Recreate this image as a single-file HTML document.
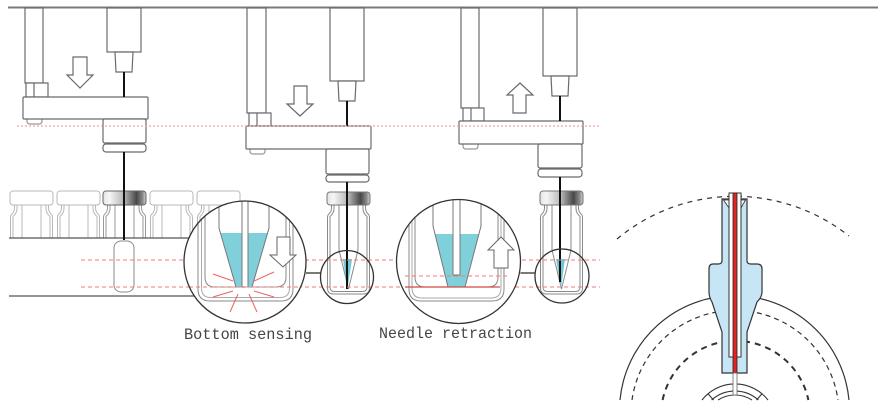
<!DOCTYPE html>
<html><head><meta charset="utf-8"><style>
html,body{margin:0;padding:0;background:#fff;width:888px;height:417px;overflow:hidden;}
svg{display:block;}
</style></head><body>
<svg width="888" height="417" viewBox="0 0 888 417" xmlns="http://www.w3.org/2000/svg">
<defs>
<linearGradient id="capg" x1="0" x2="1" y1="0" y2="0">
 <stop offset="0" stop-color="#e4e4e4"/>
 <stop offset="0.15" stop-color="#f6f6f6"/>
 <stop offset="0.5" stop-color="#b4b4b4"/>
 <stop offset="0.78" stop-color="#484848"/>
 <stop offset="0.92" stop-color="#8a8a8a"/>
 <stop offset="1" stop-color="#d4d4d4"/>
</linearGradient>
<g id="vb" fill="none">
 <path d="M4.5,205 V208 Q4.5,212 1,215 Q0.5,216 0.5,218 V288 Q0.5,294 6.5,294 H36.5 Q42.5,294 42.5,288 V218 Q42.5,216 42,215 Q38.5,212 38.5,208 V205"/>
 <path d="M7,205 V208.5 Q7,213 3,216.5 V287 Q3,291.5 7.5,291.5 H35.5 Q40,291.5 40,287 V216.5 Q36,213 36,208.5 V205"/>
 <path d="M12,205 V250 L21.5,289 L31,250 V205"/>
</g>
<clipPath id="c1"><circle cx="245" cy="262" r="60.5"/></clipPath>
<clipPath id="c3"><circle cx="458.5" cy="261.5" r="61.5"/></clipPath>
</defs>

<!-- top rail -->
<line x1="8" y1="7.5" x2="878" y2="7.5" stroke="#7a7a7a" stroke-width="2"/>

<!-- mechanical parts -->
<g fill="#fff" stroke="#6a6a6a" stroke-width="1.2">
 <!-- section 1 -->
 <rect x="25" y="8" width="18" height="75"/>
 <rect x="26" y="83" width="22" height="14"/><line x1="34" y1="83" x2="34" y2="97"/>
 <path d="M27,119 v2 q0,3 3,3 h9 q3,0 3,-3 v-2" stroke="#999"/>
 <rect x="23" y="97" width="125" height="22" rx="1"/>
 <rect x="107" y="8" width="34" height="44"/>
 <path d="M115,52 L133,52 L132,72 L116,72 Z"/>
 <path d="M73,57 H87 V75 H93 L80,88 L67,75 H73 Z"/>
 <rect x="103" y="119" width="43" height="24" rx="2"/>
 <rect x="103" y="144" width="43" height="8" rx="3"/>
 <!-- section 2 -->
 <rect x="247" y="8" width="19" height="105"/>
 <rect x="249" y="113" width="22" height="13"/><line x1="257" y1="113" x2="257" y2="126"/>
 <path d="M250,149 v2 q0,3 3,3 h9 q3,0 3,-3 v-2" stroke="#999"/>
 <rect x="246" y="126" width="125" height="23" rx="1"/>
 <rect x="330" y="8" width="34" height="73"/>
 <path d="M338,81 L356,81 L355,101 L339,101 Z"/>
 <path d="M294,86 H307 V104 H313 L300,116 L287,104 H294 Z"/>
 <rect x="326" y="149" width="43" height="25" rx="2"/>
 <rect x="326" y="175" width="43" height="7" rx="3"/>
 <!-- section 3 -->
 <rect x="461" y="8" width="18" height="100"/>
 <rect x="463" y="108" width="21" height="13"/><line x1="471" y1="108" x2="471" y2="121"/>
 <path d="M463,144 v2 q0,3 3,3 h9 q3,0 3,-3 v-2" stroke="#999"/>
 <rect x="459" y="121" width="124" height="23" rx="1"/>
 <rect x="543" y="8" width="34" height="68"/>
 <path d="M551,76 L569,76 L568,96 L552,96 Z"/>
 <path d="M513,113 V95 H507 L520,83 L533,95 H526 V113 Z"/>
 <rect x="538" y="144" width="44" height="24" rx="2"/>
 <rect x="538" y="169" width="44" height="8" rx="3"/>
</g>

<!-- needles above plates -->
<g stroke="#111" stroke-width="2">
 <line x1="124" y1="72" x2="124" y2="97"/>
 <line x1="347" y1="101" x2="347" y2="126"/>
 <line x1="560" y1="96" x2="560" y2="121"/>
</g>

<!-- pink dotted reference line -->
<line x1="17" y1="126" x2="600" y2="126" stroke="#f5a0a0" stroke-width="1.3" stroke-dasharray="2 2"/>

<!-- section 1 vials -->
<g stroke="#b8b8b8" stroke-width="1">
 <use href="#vb" transform="translate(10,0)"/>
 <use href="#vb" transform="translate(57,0)"/>
 <use href="#vb" transform="translate(103,0)" stroke="#999"/>
 <use href="#vb" transform="translate(150,0)"/>
 <use href="#vb" transform="translate(197,0)"/>
 <rect x="10" y="191" width="43" height="14" rx="3" fill="#fff"/>
 <rect x="57" y="191" width="43" height="14" rx="3" fill="#fff"/>
 <rect x="150" y="191" width="43" height="14" rx="3" fill="#fff"/>
 <rect x="197" y="191" width="43" height="14" rx="3" fill="#fff"/>
 <rect x="103" y="191" width="43" height="14" rx="3" fill="url(#capg)" stroke="#666"/>
</g>

<!-- tray -->
<rect x="9" y="238.5" width="195" height="57.5" fill="#fff"/>
<line x1="9" y1="238" x2="204" y2="238" stroke="#555" stroke-width="1.2"/>
<line x1="9" y1="296" x2="204" y2="296" stroke="#555" stroke-width="1.2"/>
<rect x="114" y="241" width="20" height="51" rx="7" fill="#fff" stroke="#888"/>
<line x1="124" y1="152" x2="124" y2="240" stroke="#111" stroke-width="2"/>

<!-- vials 2 and 4 -->
<g stroke="#8a8a8a" stroke-width="1">
 <use href="#vb" transform="translate(327,0)"/>
 <use href="#vb" transform="translate(540,0)"/>
</g>
<polygon points="343,259 352,259 347.5,289" fill="#6ec8d8"/>
<polygon points="556,259 565,259 561,288" fill="#6ec8d8"/>
<g stroke="#777">
 <rect x="327" y="192" width="43" height="13" rx="3" fill="url(#capg)"/>
 <rect x="540" y="191" width="43" height="14" rx="3" fill="url(#capg)"/>
</g>
<g stroke="#111" stroke-width="2">
 <line x1="347" y1="182" x2="347" y2="289"/>
 <line x1="560" y1="177" x2="560" y2="282"/>
</g>

<!-- red dashed level lines -->
<g stroke="#f07a7a" stroke-width="1" stroke-dasharray="4 3">
 <line x1="81" y1="260" x2="600" y2="260"/>
 <line x1="81" y1="287" x2="600" y2="287"/>
</g>

<!-- big circle 1 : bottom sensing -->
<circle cx="245" cy="262" r="61" fill="#fff"/>
<g clip-path="url(#c1)" fill="none" stroke-width="1">
 <path d="M198,195 V289 Q198,301 210,301 H281 Q293,301 293,289 V195" stroke="#888"/>
 <path d="M201.5,195 V288 Q201.5,297.5 211,297.5 H280 Q289.5,297.5 289.5,288 V195" stroke="#aaa"/>
 <path d="M205,195 V277 Q205,287 215,287 H276 Q286,287 286,277 V195" stroke="#888"/>
 <polygon points="221,233 268,233 252,287 236,287" fill="#80d0dc" stroke="none"/>
 <path d="M219,195 V228 L236,287 M269,195 V228 L252,287" stroke="#777"/>
 <rect x="242" y="195" width="6" height="92" fill="#fff" stroke="#777"/>
 <path d="M277,237 H290 V255 H296 L283,267 L270,255 H277 Z" fill="#fff" stroke="#666"/>
 <line x1="182" y1="287" x2="308" y2="287" stroke="#f07a7a" stroke-dasharray="4 3"/>
 <g stroke="#f06060">
  <line x1="213" y1="274" x2="233" y2="281"/>
  <line x1="213" y1="297" x2="233" y2="291"/>
  <line x1="230" y1="312" x2="238" y2="294"/>
  <line x1="249" y1="294" x2="257" y2="312"/>
  <line x1="254" y1="281" x2="274" y2="272"/>
  <line x1="254" y1="291" x2="274" y2="297"/>
 </g>
</g>
<circle cx="245" cy="262" r="61" fill="none" stroke="#333" stroke-width="1.3"/>

<!-- big circle 3 : needle retraction -->
<circle cx="458.5" cy="261.5" r="62" fill="#fff"/>
<g clip-path="url(#c3)" fill="none" stroke-width="1">
 <path d="M409,195 V289 Q409,301 421,301 H492 Q504,301 504,289 V195" stroke="#888"/>
 <path d="M412,195 V288 Q412,298 422,298 H491 Q501,298 501,288 V195" stroke="#aaa"/>
 <path d="M415,195 V277 Q415,287 425,287 H488 Q498,287 498,277 V195" stroke="#888"/>
 <polygon points="435,234 479,234 465,287 448,287" fill="#80d0dc" stroke="none"/>
 <path d="M433,195 V226 L448,287 M481,195 V226 L465,287" stroke="#777"/>
 <rect x="453" y="195" width="7" height="80" fill="#fff" stroke="#777"/>
 <path d="M494,268 V250 H488 L501,237 L514,250 H508 V268 Z" fill="#fff" stroke="#666"/>
 <line x1="405" y1="276" x2="508" y2="276" stroke="#f07a7a" stroke-dasharray="4 3"/>
 <line x1="405" y1="287" x2="500" y2="287" stroke="#d04848" stroke-width="1.2"/>
</g>
<circle cx="458.5" cy="261.5" r="62" fill="none" stroke="#333" stroke-width="1.3"/>

<!-- small circles and connectors -->
<g fill="none" stroke="#333" stroke-width="1.3">
 <circle cx="347" cy="277" r="26.5"/>
 <circle cx="562" cy="276" r="27"/>
 <line x1="306" y1="273" x2="320.5" y2="273"/>
 <line x1="520.5" y1="273" x2="535" y2="273"/>
</g>

<!-- labels -->
<text x="184" y="339" font-family="Liberation Mono, monospace" font-size="16" fill="#454545" textLength="128" lengthAdjust="spacingAndGlyphs">Bottom sensing</text>
<text x="379" y="338" font-family="Liberation Mono, monospace" font-size="16" fill="#454545" textLength="153" lengthAdjust="spacingAndGlyphs">Needle retraction</text>

<!-- right detail -->
<g fill="none" stroke="#333">
 <path d="M617,239 A184,184 0 0 1 849,236" stroke-width="1.2" stroke-dasharray="5 5"/>
 <path d="M620,400 A115,115 0 0 1 849,400" stroke-width="1.2"/>
 <path d="M632,400 A104,104 0 0 1 838,400" stroke-width="1.2" stroke-dasharray="5 4"/>
 <path d="M662.6,400 A74.5,74.5 0 0 1 808.4,400" stroke-width="2" stroke-dasharray="6 5"/>
 <!-- rotor -->
 <path d="M702,400 A42,42 0 0 1 768,400 Z" fill="#fff" stroke="none"/>
 <path d="M702,400 A42,42 0 0 1 768,400" stroke-width="1.1"/>
 <path d="M711.6,400 A35,35 0 0 1 758.4,400" stroke-width="1.1"/>
 <path d="M718.1,400 A31,31 0 0 1 751.9,400" stroke-width="1.1"/>
 <line x1="708" y1="393.8" x2="713.5" y2="400" stroke-width="1.1"/>
 <line x1="762" y1="393.8" x2="756.5" y2="400" stroke-width="1.1"/>
 <!-- needle body -->
 <path d="M722,199 V261 Q722,264 718,264 H713 Q709,264 709,269 V292 Q709,297 712,302 L722,332 V373 H747 V332 L757,302 Q762,297 762,292 V269 Q762,264 757,264 H751 Q747,264 747,261 V199 Z" fill="#c6e6f6" stroke-width="1.2"/>
 <path d="M723.5,200 H729 V208 Z M745.5,200 H741 V208 Z" fill="#fff" stroke-width="0.8"/>
 <rect x="729" y="193" width="12" height="164" fill="#fff" stroke-width="1"/>
 <rect x="733" y="193" width="4" height="180" fill="#e42424" stroke="#222" stroke-width="0.8"/>
 <rect x="733" y="373" width="4" height="22" fill="#fff" stroke="#666" stroke-width="0.8"/>
</g>
</svg>
</body></html>
